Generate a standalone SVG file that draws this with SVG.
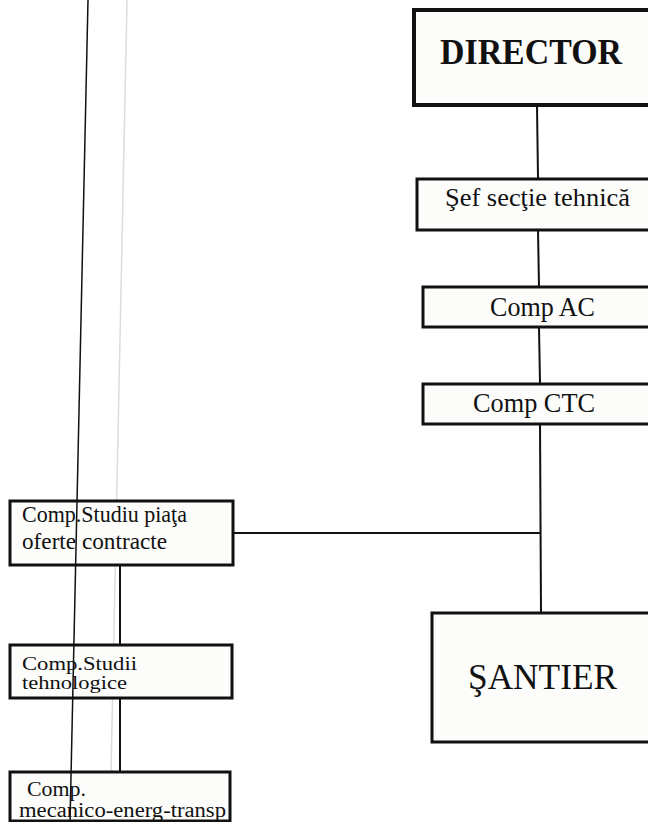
<svg xmlns="http://www.w3.org/2000/svg" width="648" height="822" viewBox="0 0 648 822">
<style>
.box{fill:#fcfcfa;stroke:#111;stroke-width:3}
.thick{stroke-width:4}
.conn{stroke:#111;stroke-width:2;fill:none}
text{font-family:"Liberation Serif","DejaVu Serif",serif;fill:#111}
</style>
<rect width="648" height="822" fill="#ffffff"/>
<line x1="127" y1="0" x2="110" y2="822" stroke="#dcdcdc" stroke-width="1.5"/>
<g id="connectors">
<polyline class="conn" points="537,106 538,178"/>
<polyline class="conn" points="538,230 539,287"/>
<polyline class="conn" points="539,327 540,384"/>
<polyline class="conn" points="540,424 541,613"/>
<line class="conn" x1="233" y1="533" x2="541" y2="533"/>
<line class="conn" x1="120" y1="565" x2="120" y2="645"/>
<line class="conn" x1="120" y1="698" x2="120" y2="772"/>
</g>
<g id="director">
<rect class="box thick" x="414" y="10" width="240" height="95"/>
<text font-family="Liberation Serif, serif" x="440" y="64" font-size="35" font-weight="bold" textLength="182" lengthAdjust="spacingAndGlyphs">DIRECTOR</text>
</g>
<g id="sef-sectie">
<rect class="box" x="417" y="179" width="240" height="51"/>
<text font-family="Liberation Serif, serif" x="445" y="206" font-size="26" textLength="185" lengthAdjust="spacingAndGlyphs">Şef secţie tehnică</text>
</g>
<g id="comp-ac">
<rect class="box" x="423" y="287" width="240" height="40"/>
<text font-family="Liberation Serif, serif" x="490" y="316" font-size="27" textLength="105" lengthAdjust="spacingAndGlyphs">Comp AC</text>
</g>
<g id="comp-ctc">
<rect class="box" x="423" y="384" width="240" height="40"/>
<text font-family="Liberation Serif, serif" x="473" y="412" font-size="27" textLength="122" lengthAdjust="spacingAndGlyphs">Comp CTC</text>
</g>
<g id="santier">
<rect class="box" x="432" y="613" width="230" height="129"/>
<text font-family="Liberation Serif, serif" x="468" y="689" font-size="35" textLength="149" lengthAdjust="spacingAndGlyphs">ŞANTIER</text>
</g>
<g id="comp-studiu-piata">
<rect class="box" x="10" y="501" width="223" height="64"/>
<text font-family="Liberation Serif, serif" x="22" y="522" font-size="23" textLength="165" lengthAdjust="spacingAndGlyphs">Comp.Studiu piaţa</text>
<text font-family="Liberation Serif, serif" x="22" y="549" font-size="23" textLength="145" lengthAdjust="spacingAndGlyphs">oferte contracte</text>
</g>
<g id="comp-studii-tehnologice">
<rect class="box" x="10" y="645" width="222" height="53"/>
<text font-family="Liberation Serif, serif" x="22" y="670" font-size="19" textLength="115" lengthAdjust="spacingAndGlyphs">Comp.Studii</text>
<text font-family="Liberation Serif, serif" x="22" y="689" font-size="19" textLength="105" lengthAdjust="spacingAndGlyphs">tehnologice</text>
</g>
<g id="comp-mecanico">
<rect class="box" x="10" y="772" width="220" height="49"/>
<text font-family="Liberation Serif, serif" x="27" y="796" font-size="20" textLength="59" lengthAdjust="spacingAndGlyphs">Comp.</text>
<text font-family="Liberation Serif, serif" x="19" y="817" font-size="20" textLength="207" lengthAdjust="spacingAndGlyphs">mecanico-energ-transp</text>
</g>
<line x1="88" y1="0" x2="70" y2="822" stroke="#111" stroke-width="1.5"/>
</svg>
